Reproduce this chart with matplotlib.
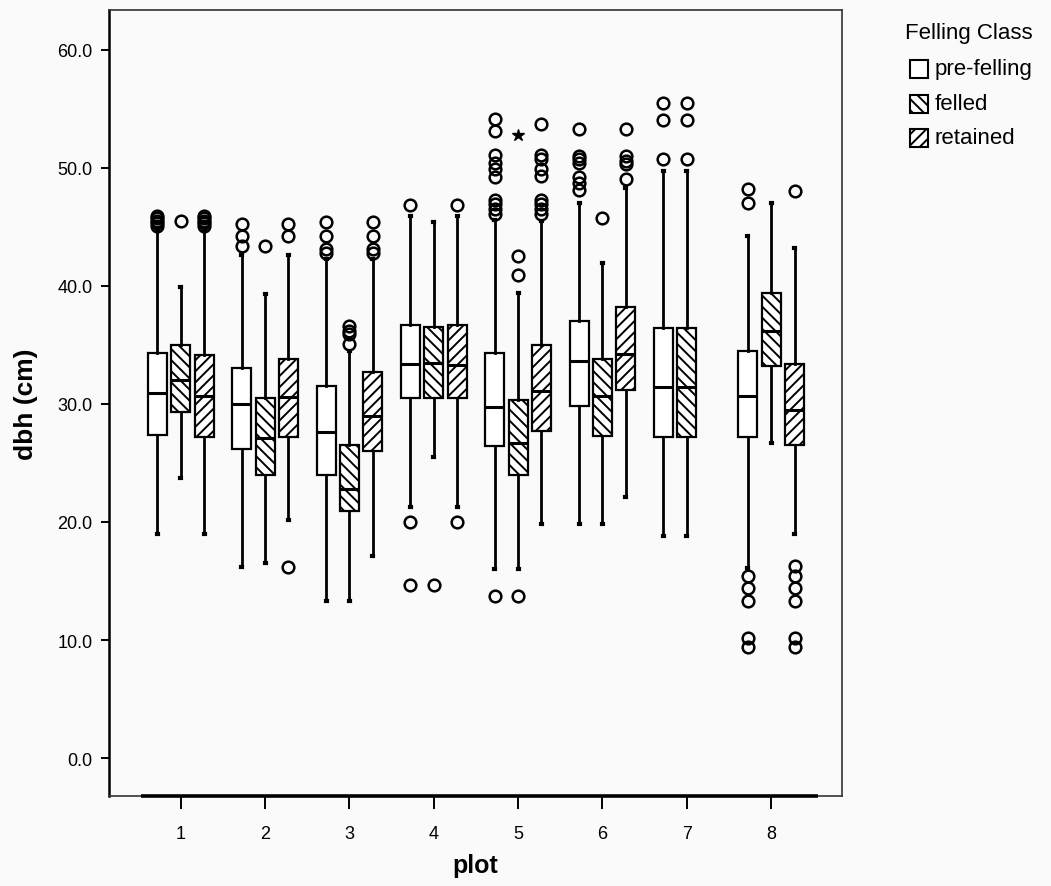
import matplotlib
matplotlib.use("Agg")
import matplotlib.pyplot as plt
from matplotlib.patches import Rectangle

plt.rcParams['font.family'] = ['Liberation Sans', 'DejaVu Sans']
plt.rcParams['hatch.linewidth'] = 1.4
plt.rcParams['hatch.color'] = 'black'

# ---- data: dbh (cm) summary per plot and felling class ----
plots = [1, 2, 3, 4, 5, 6, 7, 8]
classes = ['pre-felling', 'felled', 'retained']

pre_q1 = [27.4, 26.2, 24.0, 30.5, 26.4, 29.8, 27.2, 27.2]
pre_med = [30.9, 30.0, 27.6, 33.4, 29.7, 33.6, 31.4, 30.7]
pre_q3 = [34.3, 33.0, 31.5, 36.7, 34.3, 37.0, 36.4, 34.5]
pre_lo = [19.0, 16.2, 13.3, 21.3, 16.0, 19.8, 18.8, 16.1]
pre_hi = [44.6, 42.6, 42.3, 45.9, 45.6, 47.0, 49.7, 44.2]
pre_out = [
    [45.1, 45.3, 45.5, 45.7, 45.9],
    [43.4, 44.2, 45.2],
    [42.8, 43.1, 44.2, 45.4],
    [46.8, 20.0, 14.7],
    [54.1, 53.1, 51.1, 50.4, 49.9, 49.2, 47.3, 46.9, 46.5, 46.1, 13.7],
    [53.3, 51.0, 50.7, 50.4, 49.2, 48.7, 48.1],
    [55.5, 54.0, 50.7],
    [48.2, 47.0, 15.4, 14.4, 13.3, 10.2, 9.4],
]

fel_q1 = [29.3, 24.0, 20.9, 30.5, 24.0, 27.3, 27.2, 33.2]
fel_med = [32.0, 27.1, 22.8, 33.5, 26.7, 30.7, 31.4, 36.2]
fel_q3 = [35.0, 30.5, 26.5, 36.5, 30.3, 33.8, 36.4, 39.4]
fel_lo = [23.7, 16.5, 13.3, 25.5, 16.0, 19.8, 18.8, 26.7]
fel_hi = [39.9, 39.3, 34.5, 45.4, 39.4, 41.9, 49.7, 47.0]
fel_out = [
    [45.5],
    [43.4],
    [35.1, 35.9, 36.2, 36.6],
    [14.7],
    [42.5, 40.9, 13.7],
    [45.7],
    [55.5, 54.0, 50.7],
    [],
]
fel_extreme_plot = [5]
fel_extreme_val = [52.8]

ret_q1 = [27.2, 27.2, 26.0, 30.5, 27.7, 31.2, None, 26.5]
ret_med = [30.7, 30.6, 29.0, 33.3, 31.1, 34.2, None, 29.5]
ret_q3 = [34.1, 33.8, 32.7, 36.7, 35.0, 38.2, None, 33.4]
ret_lo = [19.0, 20.2, 17.1, 21.3, 19.8, 22.1, None, 19.0]
ret_hi = [44.6, 42.6, 42.3, 45.9, 45.5, 48.3, None, 43.2]
ret_out = [
    [45.1, 45.3, 45.5, 45.7, 45.9],
    [44.2, 45.2, 16.2],
    [42.8, 43.1, 44.2, 45.4],
    [46.8, 20.0],
    [53.7, 51.1, 50.7, 49.9, 49.3, 47.3, 46.9, 46.5, 46.1],
    [53.3, 51.0, 50.6, 50.3, 49.0],
    [],
    [48.0, 16.3, 15.4, 14.4, 13.3, 10.2, 9.4],
]

yticks = [0, 10, 20, 30, 40, 50, 60]

# ---- figure layout ----
W, H = 1051, 887
fig = plt.figure(figsize=(W / 100, H / 100), dpi=100)
bg = '#fafafa'
fig.patch.set_facecolor(bg)
ax = fig.add_axes([109 / W, 1 - 797 / H, (842 - 109) / W, (797 - 11) / H])
ax.set_facecolor(bg)

offsets = [-0.277, 0.0, 0.277]
hatches = ['', '\\\\\\', '///']
series = [
    (pre_q1, pre_med, pre_q3, pre_lo, pre_hi, pre_out),
    (fel_q1, fel_med, fel_q3, fel_lo, fel_hi, fel_out),
    (ret_q1, ret_med, ret_q3, ret_lo, ret_hi, ret_out),
]

for k, (q1, med, q3, lo, hi, out) in enumerate(series):
    stats, pos = [], []
    for i, p in enumerate(plots):
        if med[i] is None:
            continue
        stats.append(dict(q1=q1[i], med=med[i], q3=q3[i],
                          whislo=lo[i], whishi=hi[i], fliers=out[i]))
        pos.append(p + offsets[k])
    ax.bxp(stats, positions=pos, widths=0.225, patch_artist=True,
           capwidths=0.012,
           boxprops=dict(facecolor='white', edgecolor='black',
                         linewidth=1.6, hatch=hatches[k]),
           medianprops=dict(color='black', linewidth=2.2),
           whiskerprops=dict(color='black', linewidth=2.0),
           capprops=dict(color='black', linewidth=3.0),
           flierprops=dict(marker='o', markerfacecolor='none',
                           markeredgecolor='black', markersize=8.4,
                           markeredgewidth=1.8, linestyle='none'),
           zorder=3)

# extreme value (star)
ax.plot([p + offsets[1] for p in fel_extreme_plot], fel_extreme_val,
        linestyle='none', marker='*', color='black', markersize=9, zorder=4)

ax.set_xlim(0.15, 8.84)
ax.set_ylim(-3.2, 63.35)

ax.set_xticks(plots)
ax.set_xticklabels([str(p) for p in plots])
ax.set_yticks(yticks)
ax.set_yticklabels(['%.1f' % v for v in yticks])
ax.tick_params(axis='y', direction='out', length=6, width=1.4, pad=6,
               labelsize=13, colors='black')
ax.tick_params(axis='x', direction='out', length=9, width=1.4, pad=12,
               labelsize=13, colors='black')

for s in ['top', 'right', 'bottom']:
    ax.spines[s].set_color('#333333')
    ax.spines[s].set_linewidth(1.2)
ax.spines['left'].set_color('black')
ax.spines['left'].set_linewidth(1.8)

# heavy category axis line
ax.plot([0.53, 8.56], [-3.2, -3.2], color='black', linewidth=2.6,
        clip_on=False, zorder=5, solid_capstyle='butt')

ax.set_ylabel('dbh (cm)', fontsize=19, fontweight='bold', labelpad=14)
ax.set_xlabel('plot', fontsize=18, fontweight='bold', labelpad=8)

# ---- legend ----
def fx(x):
    return x / W


def fy(y):
    return 1 - y / H


fig.text(fx(905), fy(33), 'Felling Class', fontsize=16, va='center',
         ha='left')
for i, (name, h) in enumerate(zip(classes, hatches)):
    yc = 70 + 34.5 * i
    fig.add_artist(Rectangle((fx(910), fy(yc + 9)), 18 / W, 18 / H,
                             transform=fig.transFigure, facecolor='white',
                             edgecolor='black', linewidth=1.5, hatch=h))
    fig.text(fx(935), fy(yc), name, fontsize=16, va='center', ha='left')

fig.savefig('out.png', dpi=100, facecolor=bg)
